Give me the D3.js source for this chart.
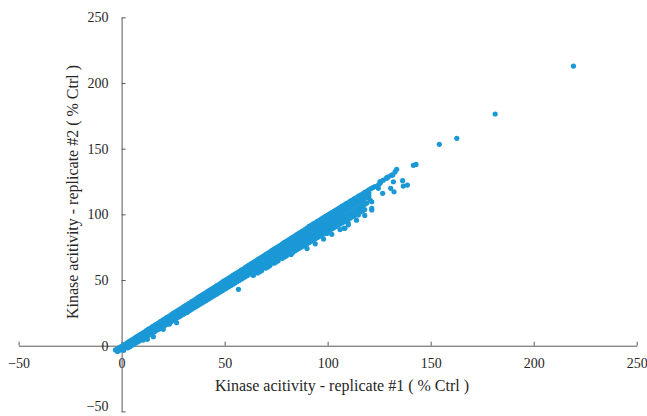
<!DOCTYPE html>
<html>
<head>
<meta charset="utf-8">
<script src="https://cdn.jsdelivr.net/npm/d3@7"></script>
<style>
  body { margin: 0; background: #fff; }
  svg { display: block; }
  .tick text { font-family: "Times New Roman", "Liberation Serif", "DejaVu Serif", serif; font-size: 14px; fill: #262626; }
  .axis-title { font-family: "Times New Roman", "Liberation Serif", "DejaVu Serif", serif; font-size: 16px; fill: #262626; }
</style>
</head>
<body>
<div id="chart"></div>
<script>
// tick values
var xTicks = [-50, 0, 50, 100, 150, 200, 250];
var yTicks = [-50, 0, 50, 100, 150, 200, 250];

// upper edge of the dense band
var bandTop = [[-3,-3.2],[-1,-1.3],[1,0.6],[3,2.5],[5,4.5],[7,6.6],[9,8.5],[11,10.4],[13,12.6],[15,14.5],
  [17,16.4],[19,18.6],[21,20.5],[23,22.4],[25,24.6],[27,26.5],[29,28.4],[31,30.6],[33,32.5],[35,34.4],
  [37,36.6],[39,38.5],[41,40.4],[43,42.6],[45,44.5],[47,46.4],[49,48.6],[51,50.5],[53,52.4],[55,54.6],
  [57,56.5],[59,58.4],[61,60.6],[63,62.5],[65,64.4],[67,66.6],[69,68.5],[71,70.4],[73,72.6],[75,74.5],
  [77,76.4],[79,78.6],[81,80.5],[83,82.4],[85,84.6],[87,86.5],[89,88.4],[91,90.8],[93,92.7],[95,94.6],
  [97,96.5],[99,98.5],[101,100.4],[103,102.3],[105,104.2],[107,106.2],[109,108.1],[111,110],[113,111.9],
  [115,113.8],[117,115.7],[119,117.6],[121,119.6],[123,121.2],
  [-2,-2.3],[0,-0.4],[2,1.5],[4,3.5],[6,5.5],[8,7.5],[10,9.5],[12,11.5],[14,13.5],[16,15.5],[18,17.5],
  [20,19.5],[22,21.5],[24,23.5],[26,25.5],[28,27.5],[30,29.5],[32,31.5],[34,33.5],[36,35.5],[38,37.5],
  [40,39.5],[42,41.5],[44,43.5],[46,45.5],[48,47.5],[50,49.5],[52,51.5],[54,53.5],[56,55.5],[58,57.5],
  [60,59.5],[62,61.5],[64,63.5],[66,65.5],[68,67.5],[70,69.5],[72,71.5],[74,73.5],[76,75.5],[78,77.5],
  [80,79.5],[82,81.5],[84,83.5],[86,85.5],[88,87.5],[90,89.6],[92,91.7],[94,93.6],[96,95.5],[98,97.5],
  [100,99.4],[102,101.3],[104,103.2],[106,105.2],[108,107.1],[110,109],[112,110.9],[114,112.8],[116,114.7],
  [118,116.7],[120,118.6],[122,120.4]];

// just under the upper edge
var bandUpper = [[40,37.9],[42,39.9],[44,41.8],[46,43.8],[48,45.8],[50,47.8],[52,49.7],[54,51.7],[56,53.7],
  [58,55.6],[60,57.6],[62,59.6],[64,61.5],[66,63.5],[68,65.5],[70,67.5],[72,69.4],[74,71.4],[76,73.4],
  [78,75.3],[80,77.3],[82,79.3],[84,81.2],[86,83.2],[88,85.2],[90,87.2],[92,89.2],[94,91.1],[96,93],
  [98,95],[100,97],[102,98.9],[104,100.8],[106,102.7],[108,104.7],[110,106.6],[112,108.5],[114,110.4],
  [116,112.4],[118,114.3],[120,116.2],
  [71,68.5],[75,72.4],[79,76.3],[83,80.2],[87,84.2],[91,88.2],[95,92.1],[99,96],[103,99.9],[107,103.7],
  [111,107.6],[115,111.4],[119,115.3]];

// middle of the band
var bandMid = [[-2,-4.4],[0,-2.5],[2,-0.6],[4,1.4],[6,3.3],[8,5.3],[10,7.2],[12,9.1],[14,11.1],[16,13],
  [18,15],[20,16.9],[22,18.8],[24,20.8],[26,22.7],[28,24.7],[30,26.6],[32,28.5],[34,30.5],[36,32.4],
  [38,34.4],[40,36.3],[42,38.2],[44,40.2],[46,42.1],[48,44.1],[50,46],[52,47.9],[54,49.9],[56,51.8],
  [58,53.8],[60,55.7],[62,57.6],[64,59.6],[66,61.5],[68,63.5],[70,65.4],[72,67.3],[74,69.3],[76,71.2],
  [78,73.2],[80,75.1],[82,77],[84,79],[86,80.9],[88,82.9],[90,84.8],[92,86.7],[94,88.7],[96,90.6],
  [98,92.6],[100,94.5],[102,96.4],[104,98.4],[106,100.3],[108,102.3],[110,104.2],[112,106.1],[114,108.1],
  [116,110],[118,112],[120,113.9],
  [-1,-3.5],[1,-1.5],[3,0.4],[5,2.4],[7,4.3],[9,6.2],[11,8.2],[13,10.1],[15,12.1],[17,14],[19,15.9],
  [21,17.9],[23,19.8],[25,21.8],[27,23.7],[29,25.6],[31,27.6],[33,29.5],[35,31.5],[37,33.4],[39,35.3],
  [41,37.3],[43,39.2],[45,41.2],[47,43.1],[49,45],[51,47],[53,48.9],[55,50.9],[57,52.8],[59,54.7],
  [61,56.7],[63,58.6],[65,60.6],[67,62.5],[69,64.4],[71,66.4],[73,68.3],[75,70.3],[77,72.2],[79,74.1],
  [81,76.1],[83,78],[85,80],[87,81.9],[89,83.8],[91,85.8],[93,87.7],[95,89.7],[97,91.6],[99,93.5],
  [101,95.5],[103,97.4],[105,99.4],[107,101.3],[109,103.2],[111,105.2],[113,107.1],[115,109.1],[117,111],[119,112.9]];

// lower part of the band
var bandLow = [[1,-3.5],[3,-1.6],[5,0.3],[7,2.2],[9,4.1],[11,6],[13,7.9],[15,9.8],[17,11.7],[19,13.6],
  [21,15.5],[23,17.4],[25,19.3],[27,21.2],[29,23.1],[31,25],[33,26.9],[35,28.8],[37,30.7],[39,32.6],
  [41,34.5],[43,36.4],[45,38.3],[47,40.2],[49,42.1],[51,44],[53,45.9],[55,47.8],[57,49.7],[59,51.6],
  [61,53.5],[63,55.4],[65,57.3],[67,59.2],[69,61.1],[71,63],[73,64.9],[75,66.8],[77,68.7],[79,70.6],
  [81,72.5],[83,74.4],[85,76.3],[87,78.2],[89,80.1],[91,82],[93,83.9],[95,85.8],[97,87.7],[99,89.6],
  [101,91.5],[103,93.4],[105,95.3],[107,97.2],[109,99.1],[111,101],[113,102.9],[115,104.8],[117,106.7],[119,108.6],
  [4,-0.7],[6,1.2],[8,3.1],[10,5],[12,6.9],[14,8.8],[16,10.7],[18,12.6],[20,14.5],[22,16.4],[24,18.3],
  [26,20.2],[28,22.1],[30,24],[32,25.9],[34,27.8],[36,29.7],[38,31.6],[40,33.5],[42,35.4],[44,37.3],
  [46,39.2],[48,41.1],[50,43],[52,44.9],[54,46.8],[56,48.7],[58,50.6],[60,52.5],[62,54.4],[64,56.3],
  [66,58.2],[68,60.1],[70,62],[72,63.9],[74,65.8],[76,67.7],[78,69.6],[80,71.5],[82,73.4],[84,75.3],
  [86,77.2],[88,79.1],[90,81],[92,82.9],[94,84.8],[96,86.7],[98,88.6],[100,90.5],[102,92.4],[104,94.3],
  [106,96.2],[108,98.1],[110,100],[112,101.9],[114,103.8],[116,105.7],[118,107.6]];

// band gets thicker at the high end
var bandLower = [[64,53.5],[66,55.4],[68,57.2],[70,59.1],[72,61],[74,62.8],[76,64.7],[78,66.5],[80,68.4],
  [82,70.3],[84,72.1],[86,74],[88,75.8],[90,77.7],[92,79.6],[94,81.4],[96,83.3],[98,85.1],[100,87],
  [102,88.9],[104,90.7],[106,92.6],[108,94.4],[110,96.3],[112,98.2],[114,100],[116,101.9],[118,103.7],
  [67,56.3],[71,60],[75,63.8],[79,67.5],[83,71.2],[85,73.1],[87,74.9],[89,76.8],[91,78.6],[93,80.5],
  [95,82.4],[97,84.2],[99,86.1],[101,87.9],[103,89.8],[105,91.7],[107,93.5],[109,95.4],[111,97.2],
  [113,99.1],[115,101],[117,102.8]];
var bandDeep = [[90,74],[94,77.6],[98,81.2],[102,84.8],[106,88.4],[110,92],[114,95.6],[118,99.2]];

// scattered points and outliers
var scatter = [[10.5,4.3],[12.5,4.9],[15.4,6.9],[20.2,12.5],[23.2,16.5],[26.7,17.5],[31.9,25.5],[36.5,31.2],
  [45,39.5],[53.4,47.5],[56.7,42.9],[58.3,51.5],[59.1,53.8],[64.8,59.5],[65.6,60],[70.4,63.9],[72,65.2],
  [77.7,68.3],[82.2,69.4],[82.6,70.3],[84.2,75.4],[89,76.6],[89.8,77.5],[90.6,80.5],[91.5,81.7],[98.7,86.8],
  [99.6,85.5],[106,94.4],[107.9,89.4],[108.4,89.4],[110,93.2],[114.1,100.3],[114.9,99.5],[115.7,103.3],
  [116.5,103.8],[116.5,108.4],[120.6,110.9],[121.4,103.3],[121.4,104.6],[121.4,109.6],[124.6,119.8],
  [125.4,123.6],[125.4,124.8],[126.7,116],[127,126],[125.8,124.8],[124.6,122.3],[128.7,127.4],[128.7,128],
  [129.5,128.6],[131,129.8],[131.6,129.9],[131.9,124.8],[130.6,119.8],[132.2,117.2],[133.5,134.3],
  [136.4,125.6],[136.7,121.5],[138.7,122.3],[132.7,132.3],[141.6,137.3],[142.9,138],
  [154.2,153.3],[162.7,157.9],[181.3,176.4],[219.3,212.9]];

var width = 647, height = 416;

var svg = d3.select("#chart")
    .append("svg")
    .attr("width", width)
    .attr("height", height);

var x = d3.scaleLinear().domain([-50, 250]).range([18.6, 636.7]);
var y = d3.scaleLinear().domain([-50, 250]).range([411.4, 17.3]);

// x axis crosses at y = 0
var xAxis = svg.append("g")
    .attr("transform", "translate(0," + y(0) + ")")
    .call(d3.axisBottom(x).tickValues(xTicks).tickSizeInner(-4).tickSizeOuter(0).tickPadding(12));

// y axis crosses at x = 0
var yAxis = svg.append("g")
    .attr("transform", "translate(" + x(0) + ",0)")
    .call(d3.axisLeft(y).tickValues(yTicks).tickSizeInner(-4).tickSizeOuter(0).tickPadding(13));

[xAxis, yAxis].forEach(function(g) {
  g.select(".domain").attr("stroke", "#595959");
  g.selectAll(".tick line").attr("stroke", "#595959");
  g.attr("font-family", null).attr("font-size", null);
});

// lowest y label sits at the picture's bottom edge, nudge it up a little
yAxis.selectAll(".tick text").filter(function(d) { return d === -50; }).attr("dy", "-0.05em");

// points
var allPoints = [].concat(bandDeep, bandLower, bandLow, bandMid, bandUpper, bandTop, scatter);
svg.append("g")
    .selectAll("circle")
    .data(allPoints)
    .enter().append("circle")
    .attr("cx", function(d) { return x(d[0]); })
    .attr("cy", function(d) { return y(d[1]); })
    .attr("r", 2.6)
    .attr("fill", "#1b98d6");

// axis titles
svg.append("text")
    .attr("class", "axis-title")
    .attr("x", 342)
    .attr("y", 391)
    .attr("text-anchor", "middle")
    .text("Kinase acitivity - replicate #1 ( % Ctrl )");

svg.append("text")
    .attr("class", "axis-title")
    .attr("transform", "translate(78,192) rotate(-90)")
    .attr("text-anchor", "middle")
    .text("Kinase acitivity - replicate #2 ( % Ctrl )");
</script>
</body>
</html>
